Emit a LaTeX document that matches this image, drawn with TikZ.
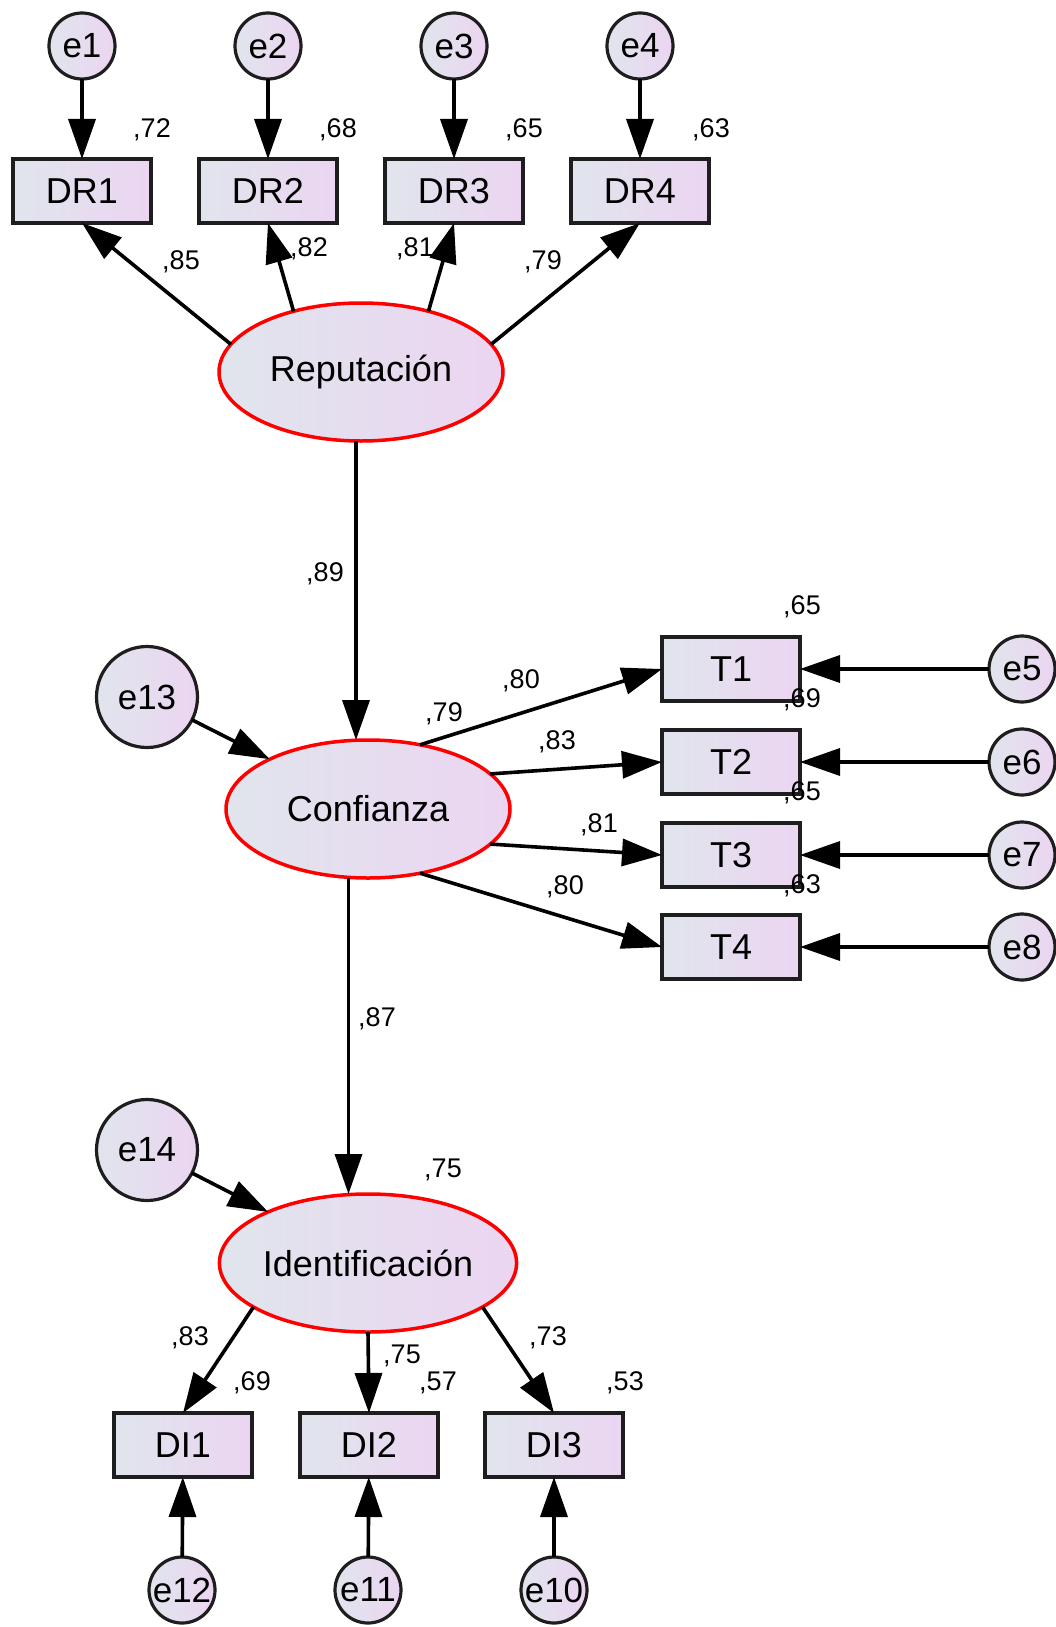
\documentclass[tikz,border=0pt]{standalone}
\usepackage{fontspec}
\setmainfont{Liberation Sans}
\usetikzlibrary{shapes.geometric,arrows.meta}

\definecolor{fillleft}{RGB}{224,229,237}
\definecolor{fillright}{RGB}{236,213,241}
\definecolor{edgegray}{RGB}{30,30,30}

\tikzset{
  obs/.style={draw=edgegray, line width=4pt, left color=fillleft, right color=fillright,
    minimum width=138pt, minimum height=64pt, inner sep=0pt, outer sep=0pt,
    font=\fontsize{36}{40}\selectfont},
  lat/.style={ellipse, draw=red, line width=3.5pt, left color=fillleft, right color=fillright,
    minimum width=284pt, minimum height=138pt, inner sep=0pt, outer sep=0pt,
    font=\fontsize{36}{40}\selectfont},
  err/.style={circle, draw=edgegray, line width=3.2pt, left color=fillleft, right color=fillright,
    minimum size=66pt, inner sep=0pt, outer sep=0pt, font=\fontsize{35}{40}\selectfont},
  bigerr/.style={err, minimum size=101pt},
  arr/.style={-{Triangle[length=40pt,width=27pt]}, line width=3.6pt, draw=black},
  coef/.style={inner sep=0pt, font=\fontsize{27}{30}\selectfont}
}

\begin{document}
\begin{tikzpicture}[x=1pt, y=-1pt]

    \useasboundingbox (0,0) rectangle (1055,1627);

    % top indicators
    \node[err] (e1) at (82,46) {e1};
    \node[err] (e2) at (268,46) {e2};
    \node[err] (e3) at (454,46) {e3};
    \node[err] (e4) at (640,46) {e4};
    \node[obs] (dr1) at (82,191) {DR1};
    \node[obs] (dr2) at (268,191) {DR2};
    \node[obs] (dr3) at (454,191) {DR3};
    \node[obs] (dr4) at (640,191) {DR4};
    \node[coef] (r1) at (152,130) {,72};
    \node[coef] (r2) at (338,130) {,68};
    \node[coef] (r3) at (524,130) {,65};
    \node[coef] (r4) at (711,130) {,63};

    % reputacion
    \node[lat] (rep) at (361,372) {Reputación};
    \node[coef] (l1) at (181,262) {,85};
    \node[coef] (l2) at (309,249) {,82};
    \node[coef] (l3) at (415,249) {,81};
    \node[coef] (l4) at (543,262) {,79};

    \draw[arr] (e1) -- (dr1);
    \draw[arr] (e2) -- (dr2);
    \draw[arr] (e3) -- (dr3);
    \draw[arr] (e4) -- (dr4);
    \draw[arr] (rep.168) -- (dr1.south);
    \draw[arr] (rep.138) -- (dr2.south);
    \draw[arr] (rep.42) -- (dr3.south);
    \draw[arr] (rep.12) -- (dr4.south);

    % confianza
    \node[lat] (conf) at (368,809) {Confianza};
    \node[bigerr] (e13) at (147,697) {e13};
    \coordinate (rc) at (356,600);
    \node[coef] (b1) at (325,574) {,89};
    \node[coef] (q1) at (444,714) {,79};
    \draw[arr] (rep.south -| rc) -- (conf.north -| rc);
    \draw[arr] (e13) -- (conf);

    \node[obs] (t1) at (731,669) {T1};
    \node[obs] (t2) at (731,762) {T2};
    \node[obs] (t3) at (731,855) {T3};
    \node[obs] (t4) at (731,947) {T4};
    \node[err] (e5) at (1022,669) {e5};
    \node[err] (e6) at (1022,762) {e6};
    \node[err] (e7) at (1022,855) {e7};
    \node[err] (e8) at (1022,947) {e8};
    \draw[arr] (e5) -- (t1);
    \draw[arr] (e6) -- (t2);
    \draw[arr] (e7) -- (t3);
    \draw[arr] (e8) -- (t4);
    \draw[arr] (conf.51) -- (t1.west);
    \draw[arr] (conf.16) -- (t2.west);
    \draw[arr] (conf.-16) -- (t3.west);
    \draw[arr] (conf.-51) -- (t4.west);
    \node[coef] (s1) at (802,607) {,65};
    \node[coef] (s2) at (802,700) {,69};
    \node[coef] (s3) at (802,793) {,65};
    \node[coef] (s4) at (802,886) {,63};
    \node[coef] (m1) at (521,681) {,80};
    \node[coef] (m2) at (557,742) {,83};
    \node[coef] (m3) at (599,825) {,81};
    \node[coef] (m4) at (565,887) {,80};

    % identificacion
    \node[lat] (iden) at (368,1263) {Identificación};
    \node[bigerr] (e14) at (147,1150) {e14};
    \coordinate (ic) at (348.5,1000);
    \node[coef] (b2) at (377,1019) {,87};
    \node[coef] (q2) at (443,1170) {,75};
    \draw[arr] (conf.south -| ic) -- (iden.north -| ic);
    \draw[arr] (e14) -- (iden);

    \node[obs] (di1) at (183,1445) {DI1};
    \node[obs] (di2) at (369,1445) {DI2};
    \node[obs] (di3) at (554,1445) {DI3};
    \node[err] (e12) at (182,1590) {e12};
    \node[err] (e11) at (368,1590) {e11};
    \node[err] (e10) at (554,1590) {e10};
    \draw[arr] (iden.201) -- (di1.north);
    \draw[arr] (iden.south) -- (di2.north);
    \draw[arr] (iden.-21) -- (di3.north);
    \draw[arr] (e12) -- (di1);
    \draw[arr] (e11) -- (di2);
    \draw[arr] (e10) -- (di3);
    \node[coef] (n1) at (190,1338) {,83};
    \node[coef] (n2) at (402,1356) {,75};
    \node[coef] (n3) at (548,1338) {,73};
    \node[coef] (p1) at (252,1383) {,69};
    \node[coef] (p2) at (438,1383) {,57};
    \node[coef] (p3) at (625,1383) {,53};

\end{tikzpicture}
\end{document}
